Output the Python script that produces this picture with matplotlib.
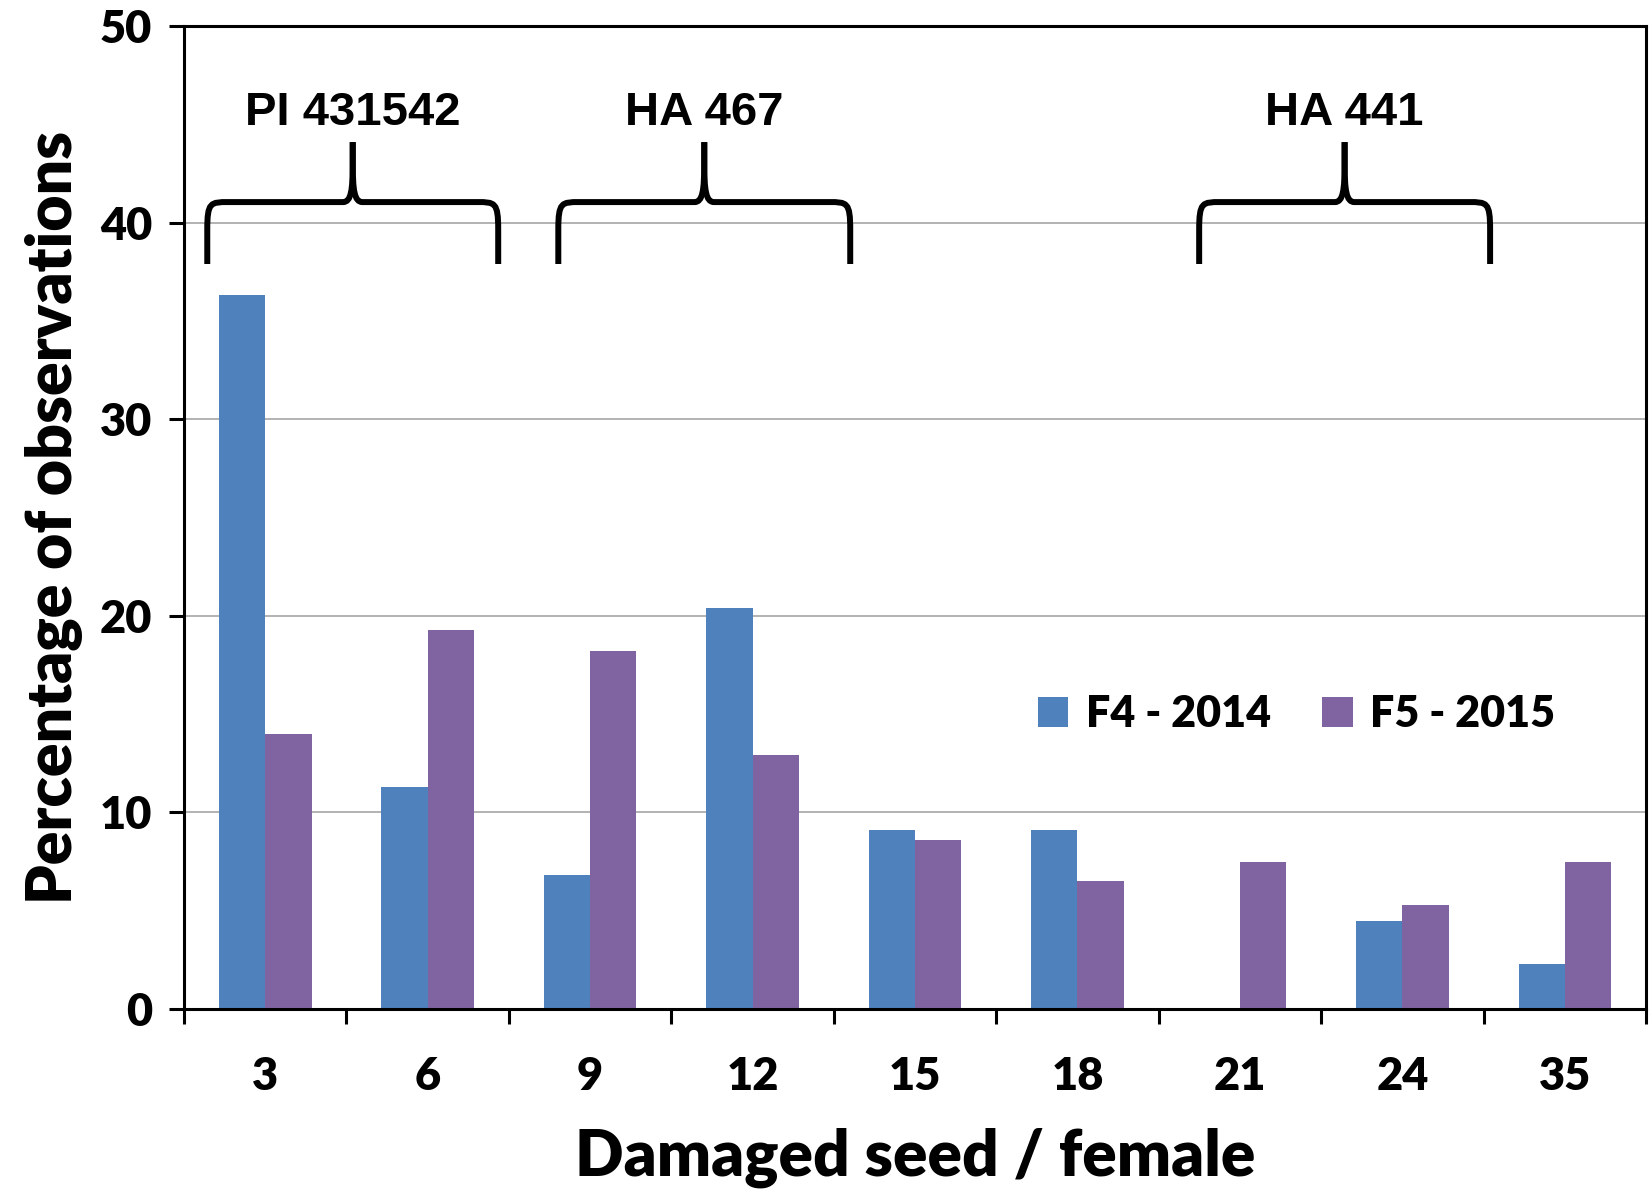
import numpy as np
import matplotlib.pyplot as plt
from matplotlib.path import Path
from matplotlib.patches import PathPatch

categories = ["3", "6", "9", "12", "15", "18", "21", "24", "35"]
f4_2014 = [36.3, 11.3, 6.8, 20.4, 9.1, 9.1, 0.0, 4.5, 2.3]
f5_2015 = [14.0, 19.3, 18.2, 12.9, 8.6, 6.5, 7.5, 5.3, 7.5]
groups = ["PI 431542", "HA 467", "HA 441"]
group_span = [(-0.357, 1.434), (1.804, 3.601), (5.749, 7.54)]

blue = "#4F81BD"
purple = "#8064A2"
lab_font = "Lato"
wt = "heavy"

fig = plt.figure(figsize=(16.52, 11.89), dpi=100)
ax = fig.add_axes([0.1114, 0.1514, 0.885, 0.8266])

x = np.arange(len(categories))
w = 0.285
ax.bar(x - w / 2, f4_2014, w, color=blue, label="F4 - 2014", zorder=2)
ax.bar(x + w / 2, f5_2015, w, color=purple, label="F5 - 2015", zorder=2)

ax.set_xlim(-0.5, len(categories) - 0.5)
ax.set_ylim(0, 50)
ax.set_yticks([0, 10, 20, 30, 40, 50])
ax.set_xticks(x)
ax.set_xticklabels(categories)
ax.set_xticks(np.arange(-0.5, len(categories)), minor=True)
ax.tick_params(axis="x", which="major", length=0, pad=34)
ax.tick_params(axis="x", which="minor", length=11, width=2.2, direction="out")
ax.tick_params(axis="y", length=11, width=2.2, direction="out", pad=12)
for lbl in ax.get_xticklabels() + ax.get_yticklabels():
    lbl.set_fontfamily(lab_font)
    lbl.set_fontweight(wt)
    lbl.set_fontsize(32.5)

for yv in [10, 20, 30, 40]:
    ax.axhline(yv, color="#a6a6a6", lw=1.2, zorder=1)
for s in ax.spines.values():
    s.set_linewidth(2.2)
    s.set_color("black")

ax.set_xlabel("Damaged seed / female", fontsize=46, fontweight=wt,
              family=lab_font, labelpad=22)
ax.set_ylabel("Percentage of observations", fontsize=45, fontweight=wt,
              family=lab_font, labelpad=12)

leg = ax.legend(loc="center", bbox_to_anchor=(0.761, 0.3), ncol=2, frameon=False,
                prop={"family": lab_font, "weight": wt, "size": 31},
                handlelength=0.7, handleheight=0.7, handletextpad=0.4,
                columnspacing=1.2)

# curly braces over groups
yb, yh, ytop = 37.9, 41.05, 44.1
for name, (x0, x1) in zip(groups, group_span):
    xc = (x0 + x1) / 2
    verts = [
        (x0, yb), (x0, yh - 1.4),
        (x0, yh), (x0 + 0.02, yh), (x0 + 0.13, yh),
        (xc - 0.06, yh),
        (xc - 0.01, yh), (xc, yh + 0.6), (xc, yh + 2.0),
        (xc, ytop),
    ]
    codes = [Path.MOVETO, Path.LINETO,
             Path.CURVE4, Path.CURVE4, Path.CURVE4,
             Path.LINETO,
             Path.CURVE4, Path.CURVE4, Path.CURVE4,
             Path.LINETO]
    right = [(2 * xc - vx, vy) for vx, vy in verts]
    for vs in (verts, right):
        p = PathPatch(Path(vs, codes), fill=False, lw=4.3, color="black",
                      capstyle="butt", joinstyle="round", zorder=3)
        ax.add_patch(p)
    ax.text(xc, 45.6, name, ha="center", va="center", fontsize=34,
            fontweight="bold", family="Liberation Sans")

fig.savefig("out.png", dpi=100)
